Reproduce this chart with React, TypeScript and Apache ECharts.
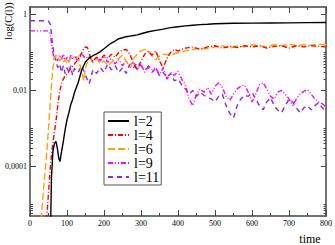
import React, { useEffect, useRef } from 'react';
import * as echarts from 'echarts';

// l=2 (black solid)
const t2 = [55, 56, 58, 62, 66, 70, 74, 78, 81, 85, 90, 95, 100, 105, 110, 115, 120, 130, 140, 150, 160, 170, 180, 190, 200, 210, 220, 230, 240, 250, 260, 270, 280, 290, 300, 320, 340, 360, 380, 400, 420, 440, 460, 480, 500, 550, 600, 650, 700, 750, 800];
const c2 = [2e-6, 4e-6, 5e-5, 2.5e-4, 4e-4, 4.6e-4, 3e-4, 1.6e-4, 1.35e-4, 2.4e-4, 4.5e-4, 9.4e-4, 1.7e-3, 2.6e-3, 4.2e-3, 5.7e-3, 8.7e-3, 0.016, 0.035, 0.057, 0.072, 0.082, 0.092, 0.105, 0.125, 0.15, 0.177, 0.2, 0.23, 0.244, 0.26, 0.27, 0.28, 0.29, 0.31, 0.35, 0.38, 0.41, 0.45, 0.475, 0.5, 0.52, 0.54, 0.55, 0.57, 0.585, 0.59, 0.595, 0.6, 0.61, 0.615];

// l=4 (red dash-dot)
const t4 = [45, 50, 55, 60, 65, 70, 75, 80, 85, 90, 95, 100, 110, 120, 130, 140, 145, 150, 155, 160, 165, 170, 180, 190, 200, 210, 220, 230, 240, 250, 260, 270, 280, 290, 300, 310, 320, 330, 340, 350, 360, 370, 380, 390, 400, 420, 440, 460, 480, 500, 520, 540, 560, 580, 600, 620, 640, 660, 680, 700, 720, 740, 760, 780, 800];
const c4 = [4e-6, 2e-5, 1e-4, 3e-4, 7e-4, 1.5e-3, 4e-3, 9e-3, 0.015, 0.02, 0.024, 0.027, 0.038, 0.05, 0.065, 0.1, 0.125, 0.14, 0.135, 0.1, 0.065, 0.06, 0.075, 0.065, 0.085, 0.07, 0.09, 0.075, 0.1, 0.115, 0.12, 0.09, 0.05, 0.035, 0.06, 0.09, 0.105, 0.085, 0.11, 0.06, 0.04, 0.07, 0.1, 0.12, 0.11, 0.13, 0.14, 0.12, 0.14, 0.15, 0.13, 0.145, 0.135, 0.15, 0.14, 0.15, 0.13, 0.145, 0.15, 0.13, 0.15, 0.14, 0.15, 0.145, 0.14];

// l=6 (orange dashed)
const t6 = [30, 35, 40, 45, 50, 55, 60, 65, 70, 75, 80, 85, 90, 95, 100, 110, 120, 130, 140, 145, 150, 160, 170, 180, 190, 200, 210, 220, 230, 240, 250, 260, 270, 280, 290, 300, 310, 320, 330, 340, 350, 360, 380, 400, 420, 440, 460, 480, 500, 520, 540, 560, 580, 600, 620, 640, 660, 680, 700, 720, 740, 760, 780, 800];
const c6 = [4e-6, 1.6e-5, 6e-5, 2.2e-4, 1e-3, 5e-3, 0.025, 0.07, 0.085, 0.075, 0.06, 0.07, 0.055, 0.065, 0.05, 0.07, 0.08, 0.075, 0.03, 0.018, 0.04, 0.075, 0.06, 0.07, 0.05, 0.06, 0.045, 0.055, 0.065, 0.07, 0.085, 0.06, 0.04, 0.07, 0.09, 0.11, 0.12, 0.11, 0.08, 0.065, 0.08, 0.09, 0.085, 0.1, 0.11, 0.12, 0.13, 0.125, 0.14, 0.15, 0.13, 0.15, 0.14, 0.16, 0.15, 0.14, 0.16, 0.15, 0.165, 0.15, 0.16, 0.155, 0.165, 0.16];

// l=9 and l=11 share a time grid
const tLong = [0, 10, 20, 30, 40, 45, 50, 55, 60, 65, 70, 75, 80, 85, 90, 95, 100, 105, 110, 115, 120,
  130, 140, 150, 160, 170, 180, 190, 200, 210, 220, 230, 240, 250, 260, 270, 280, 290, 300, 310, 320, 330, 340, 350, 360, 370, 380, 390, 400, 410, 420, 430, 440, 450, 460, 470, 480, 490, 500, 510, 520, 530, 540, 550, 560, 570, 580, 590, 600, 610, 620, 630, 640, 650, 660, 670, 680, 690, 700, 710, 720, 730, 740, 750, 760, 770, 780, 790, 800];
const c9 = [0.37, 0.37, 0.37, 0.37, 0.37, 0.37, 0.36, 0.3, 0.12, 0.07, 0.08, 0.06, 0.085, 0.065, 0.09, 0.06, 0.075, 0.055, 0.085, 0.065, 0.08,
  0.06, 0.09, 0.07, 0.08, 0.055, 0.075, 0.06, 0.08, 0.055, 0.07, 0.05, 0.065, 0.045, 0.06, 0.04, 0.055, 0.035, 0.05, 0.03, 0.045, 0.035, 0.04, 0.025, 0.04, 0.02, 0.03, 0.025, 0.032, 0.02, 0.014, 0.006, 0.004, 0.008, 0.011, 0.009, 0.012, 0.008, 0.013, 0.016, 0.012, 0.007, 0.0055, 0.008, 0.011, 0.013, 0.014, 0.009, 0.005, 0.008, 0.014, 0.016, 0.011, 0.007, 0.006, 0.009, 0.01, 0.008, 0.006, 0.004, 0.006, 0.008, 0.0095, 0.0105, 0.008, 0.006, 0.005, 0.0045, 0.0037];
const c11 = [0.68, 0.68, 0.68, 0.68, 0.68, 0.68, 0.67, 0.55, 0.2, 0.085, 0.06, 0.04, 0.05, 0.03, 0.045, 0.028, 0.04, 0.03, 0.045, 0.025, 0.038,
  0.03, 0.045, 0.025, 0.015, 0.035, 0.028, 0.04, 0.03, 0.05, 0.035, 0.045, 0.03, 0.04, 0.028, 0.05, 0.04, 0.055, 0.045, 0.035, 0.04, 0.03, 0.038, 0.025, 0.03, 0.022, 0.028, 0.018, 0.02, 0.014, 0.011, 0.008, 0.01, 0.007, 0.009, 0.0075, 0.0065, 0.006, 0.005, 0.007, 0.008, 0.004, 0.0025, 0.0019, 0.004, 0.006, 0.0075, 0.007, 0.009, 0.006, 0.004, 0.0031, 0.005, 0.0065, 0.004, 0.003, 0.0026, 0.004, 0.006, 0.005, 0.0035, 0.0026, 0.0035, 0.004, 0.0031, 0.004, 0.0048, 0.0035, 0.0028];

const names = ['l=2', 'l=4', 'l=6', 'l=9', 'l=11'];
const colors = ['#000000', '#ff0000', '#ffa500', '#ff00ff', '#8a2be2'];
const dashes: any[] = ['solid', [5, 2, 1, 2], [7, 3], [5, 2, 1, 2, 1, 2], [5, 4]];

const yMajor = [1e-4, 1e-2, 1];
const yMinorBase = [1e-6, 1e-4, 1e-2];
const Y_MIN = 5e-6;
const Y_MAX = 1.57;

const FONT = 'Liberation Serif';
const AX = '#444';

function zip(t: number[], v: number[]) {
  return t.map((x, i) => [x, v[i]]);
}

export default function App() {
  const ref = useRef<HTMLDivElement>(null);
  useEffect(() => {
    const chart = echarts.init(ref.current!, null, { renderer: 'svg' });
    const yMinor: number[] = [];
    yMinorBase.forEach((m) => {
      for (let k = 2; k <= 10; k++) {
        const v = m * k;
        if (v >= Y_MIN && v <= Y_MAX) yMinor.push(v);
      }
    });
    const fmt = (v: number) => {
      const e = Math.round(Math.log10(v));
      return e === 0 ? '1' : String(Math.pow(10, e).toFixed(-e)).replace('.', ',');
    };
    const xBase = (pos: string, labels: boolean) => ({
      type: 'value', min: 0, max: 800, interval: 100, position: pos,
      axisLine: { show: true, onZero: false, lineStyle: { color: AX, width: 1.5 } },
      axisTick: { show: true, inside: true, length: 6, lineStyle: { color: AX, width: 1 } },
      minorTick: { show: true, splitNumber: 2, length: 3, lineStyle: { color: AX, width: 1 } },
      axisLabel: { show: labels, fontFamily: FONT, fontSize: 8, color: '#000', margin: 3 },
      splitLine: { show: false },
      minorSplitLine: { show: false },
    });
    const yBase = (pos: string, line: boolean, ticks: number[], len: number, labels: boolean) => ({
      type: 'log', logBase: 10, min: Y_MIN, max: Y_MAX, position: pos,
      axisLine: { show: line, onZero: false, lineStyle: { color: AX, width: 1.5 } },
      axisTick: { show: true, inside: true, length: len, customValues: ticks, lineStyle: { color: AX, width: 1 } },
      axisLabel: labels
        ? { show: true, customValues: yMajor, formatter: fmt, fontFamily: FONT, fontSize: 8, color: '#000', margin: 3 }
        : { show: false },
      splitLine: { show: false },
    });
    const tArr = [t2, t4, t6, tLong, tLong];
    const cArr = [c2, c4, c6, c9, c11];
    chart.setOption({
      animation: false,
      grid: { left: 30, right: 8, top: 7, bottom: 29 },
      xAxis: [xBase('bottom', true), xBase('top', false)],
      yAxis: [
        yBase('left', true, yMajor, 6, true),
        yBase('left', false, yMinor, 3, false),
        yBase('right', true, yMajor, 5, false),
        yBase('right', false, yMinor, 2.5, false),
      ],
      legend: {
        orient: 'vertical', left: 104, top: 112,
        padding: [2, 2, 1, 3], itemGap: 0, itemWidth: 21, itemHeight: 10,
        borderColor: '#555', borderWidth: 1, backgroundColor: '#fff',
        itemStyle: { opacity: 0, color: 'transparent', borderWidth: 0 },
        textStyle: { fontFamily: FONT, fontSize: 14, color: '#000', lineHeight: 13.5 },
        data: names,
      },
      series: names.map((n, i) => ({
        name: n, type: 'line', symbol: 'none', xAxisIndex: 0, yAxisIndex: 0,
        lineStyle: { color: colors[i], width: 1.4, type: dashes[i] },
        itemStyle: { color: colors[i] },
        z: 10 - i,
        data: zip(tArr[i], cArr[i]),
      })),
      graphic: [
        { type: 'text', x: 8, y: 21, rotation: Math.PI / 2, style: { text: 'log(C(l))', font: `10.5px "${FONT}"`, fill: '#000', align: 'center', verticalAlign: 'middle' } },
        { type: 'text', x: 310, y: 239, style: { text: 'time', font: `12px "${FONT}"`, fill: '#000', align: 'center', verticalAlign: 'middle' } },
      ],
    });
    return () => chart.dispose();
  }, []);
  return <div ref={ref} style={{ position: 'absolute', left: 0, top: 0, width: 335, height: 245 }} />;
}
